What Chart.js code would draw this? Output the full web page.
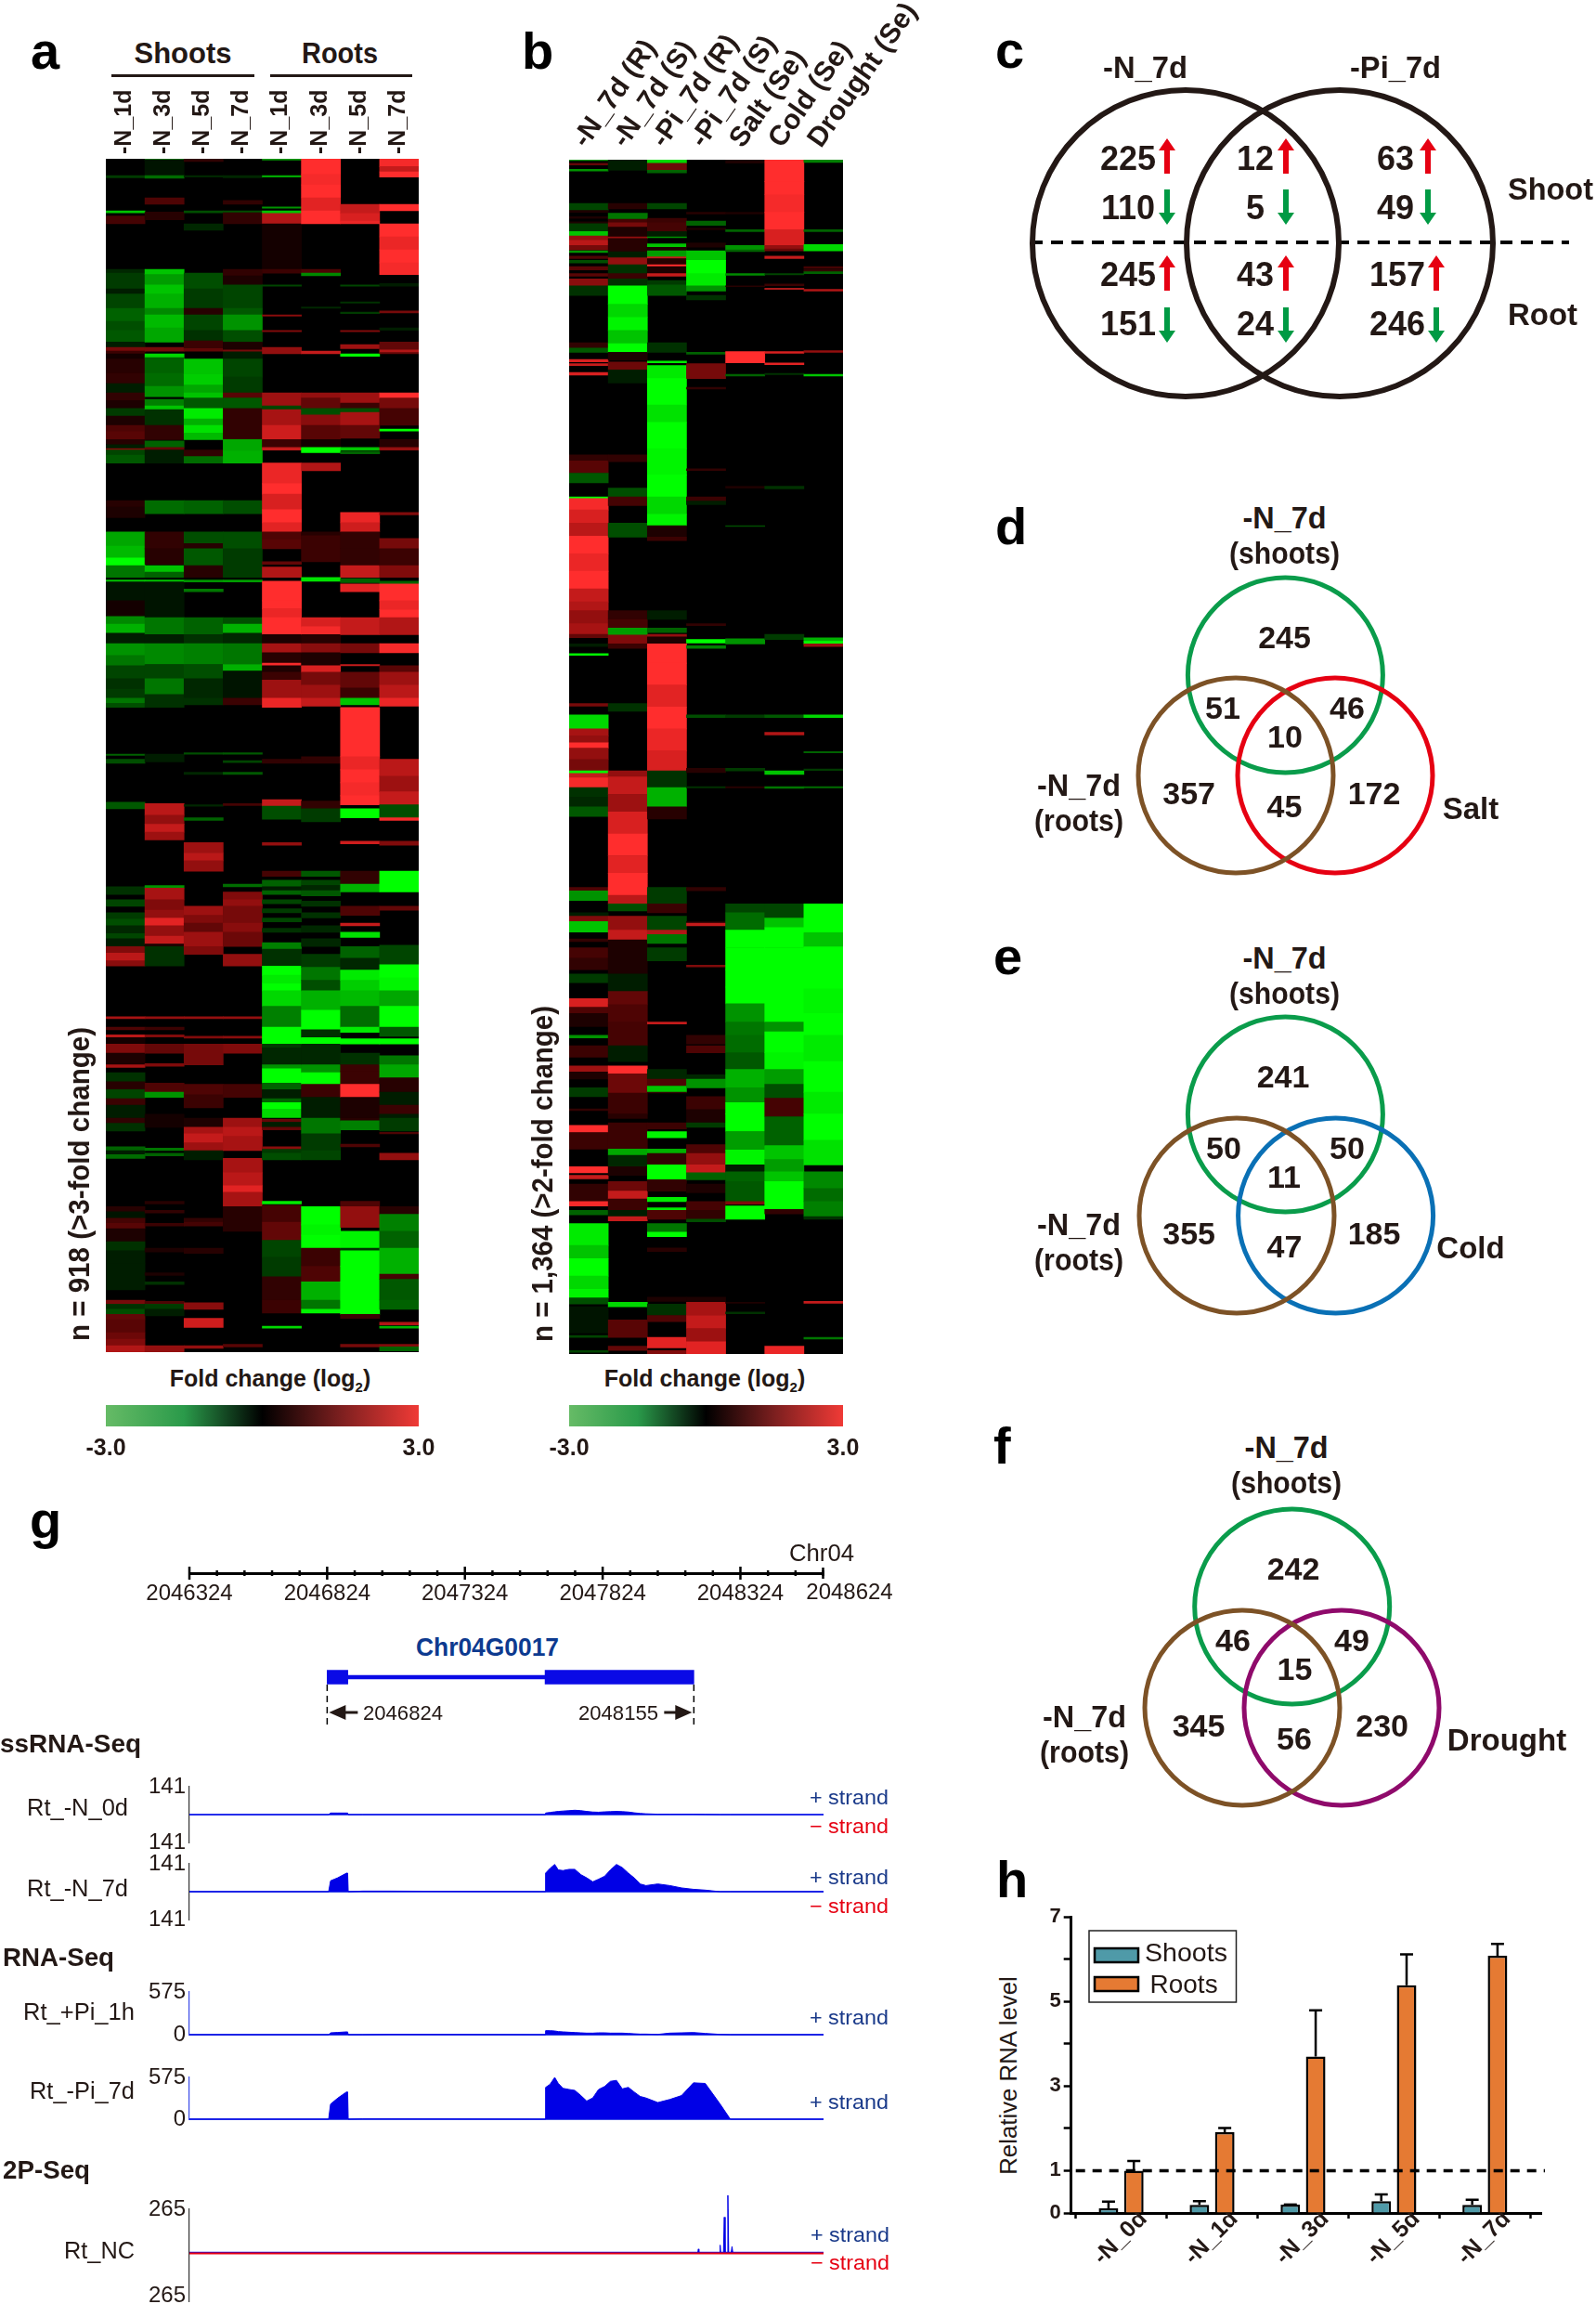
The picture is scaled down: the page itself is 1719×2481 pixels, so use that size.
<!DOCTYPE html>
<html><head><meta charset="utf-8">
<script src="https://cdn.jsdelivr.net/npm/chart.js@4"></script>
<style>
html,body{margin:0;padding:0;background:#fff}
#page{position:relative;width:1719px;height:2481px;overflow:hidden;background:#fff}
canvas{position:absolute}
.t{position:absolute;left:0;top:0;white-space:nowrap;line-height:1;transform-origin:0 0;font-family:"Liberation Sans",Arial,sans-serif;color:#231815}
sub{font-size:.6em;line-height:0}
</style></head><body><div id="page"></div>
<script>
// ---------- panel a: run lists [rowEnd, log2FC, ...] for each column, n = 918
const aLabels=['-N_1d','-N_3d','-N_5d','-N_7d','-N_1d ','-N_3d ','-N_5d ','-N_7d '];
const a1=[13,0,14.5,-.6,40,0,41.5,-2,44,0,50,.7,85,0,88,-.4,100,-.6,104,-.3,115,-.7,125,-1,132,-.8,141,-.9,145,-.3,148,1.2,150,.6,154,.2,165,.4,173,.5,180,-.3,186,.5,192,.3,198,-.6,205,.3,210,.8,216,.9,220,.4,223,-.3,224,1.4,228,-.7,234,-.9,263,0,268,.4,276,.3,287,0,298,-1.7,307,-1.9,313,-2.8,322,-1.2,324,0,325.5,-2,340,-.2,352,.2,358,-1.4,365,-1.8,373,-.3,382,-1.5,390,-1.2,400,-.7,408,-.5,415,-.6,419,-1.2,422,-.8,458,0,459,-1,462,0,465,-.8,495,0,500,-.9,560,0,566,-.5,570,0,575,-.7,580,0,585,-.6,590,-.8,596,-.4,600,-.7,606,-.3,611,1.3,617,1.9,621,1.4,660,0,661.5,1.7,668,0,670,.8,674,0,676,1.9,681,.2,688,1.3,697,.3,699,1.7,703,0,710,-.5,716,.4,723,-.7,728,.6,738,-.3,742,.5,748,-.5,760,0,763,-1,766,-.3,769,-1.1,806,0,810,.4,815,-.2,819,.7,823,.9,833,.3,840,-.5,850,-.3,870,-.3,878,0,881,1.2,885,-.5,889,-.8,893,1,903,.9,908,1.1,913,1.3,918,1.8];
const a2=[1,-1,13,-.2,15,-1.1,30,0,35,.8,41,0,47,.4,85,0,89,-2,97,-1.6,104,-2,115,-1.8,120,-1.4,130,-1.9,141,-1.7,145,0,148,1.2,150,0,153,-2.2,165,-1,175,-1.1,183,-1.5,185,0,190,-1.3,193,-2,205,-.5,216,.5,217,0,222,-1,224,1,234,-.3,263,0,273,-1.1,287,0,300,.5,312,.4,313,0,318,-2,322,-1,324,0,325.5,-2,353,-.2,366,-1.2,373,-.3,389,-1.4,400,-.7,412,-1.2,422,-.5,458,0,464,-.3,496,0,505,1.9,512,1.5,518,2,524,1.6,559,0,561,-1.5,570,1.7,578,1.3,584,1.5,590,2.3,598,1.5,604,2,606,.3,621,-.5,660,0,661.5,1.5,668,0,670,.6,674,0,675.5,1.3,681,0,688,1,696,0,698,1.3,711,0,718,.8,722,-1.5,735,0,745,.2,761,0,763,-1.2,765,0,767,-1,802,0,804,.4,809,0,811,.5,819,0,821,.6,838,0,841,.3,857,0,859,.3,864,0,866,-.5,879,0,881,.8,885,-.6,890,-.3,913,0,918,1.5];
const a3=[2,.5,13,0,14,-.4,40,0,41.5,-.8,50,0,55,-.4,88,0,100,-.8,115,-.6,120,.4,132,-.7,140,-.5,146,.6,148,1,154,0,166,-2,174,-2.1,180,-1.7,184,-2,192,-.9,200,-2.4,205,-1.8,211,-2.3,216,-1.9,224,0,229,.5,234,-1.1,263,0,273,-1,287,0,296,-.8,300,.4,313,-.9,322,.4,324,0,325.5,-1.5,331,0,333,-1.2,353,0,366,-1,373,-.5,389,-1.3,400,-.8,415,-.4,420,-.5,457,0,458,-.8,472,0,473.5,-.4,497,0,498,-.4,507,0,509,-1,526,0,534,1.6,540,1.9,548,1.5,575,0,582,1.6,588,1.3,595,1,606,1.6,612,1.3,660,0,661.5,1.5,675,0,676.5,1.3,681,0,697,1.2,712,0,720,.8,730,.6,738,0,745,.3,750,1.7,757,2,763,1.6,770,-.3,815,0,818,.5,821,.7,838,0,842,.4,880,0,885,1.4,892,0,899,2.1,913,0,915,1.5];
const a4=[13,0,14.5,-.4,32,0,35,.5,40,0,41.5,-.8,50,.5,85,0,90,.5,97,.3,115,-.7,120,-.9,132,-1.5,141,-.8,147,.3,148.5,1.2,154,-.3,168,-.7,180,-.6,184,.9,192,-.9,216,.5,225,-1.7,234,-1.8,263,0,273,-.8,287,0,300,-.8,322,-.6,324,0,325.5,-1.6,353,0,358,-.8,365,-1.8,373,-.4,389,-1.2,394,-1.8,415,-.2,420,.6,457,0,458,-.9,463,0,464.5,-.7,472,0,473.5,-.9,496,0,497.5,.7,558,0,560,-1.1,564,0,570,1.3,575,1.5,588,1.2,595,1.4,606,1.1,612,0,621,1.5,660,0,661.5,1.5,675,0,676.5,1.4,681,0,688,1.3,712,0,722,.7,738,0,745,1.6,752,1.9,763,1.7,769,0,780,1.7,790,1.9,795,2.3,806,1.7,825,.4,912,0,914,.9];
const a5=[1,-1.5,13,0,14,-1.7,37,0,38,-1.5,40,0,42,-2,50,1.8,85,.2,88,.6,97,0,98,-.7,120,0,121,1.4,132,0,133,1.3,145,0,150,1.5,180,0,190,1.6,193,-.7,205,1.7,216,2.1,222,.6,224,2,234,0,250,2.4,258,2.8,270,2.2,280,2.6,287,2.3,293,.8,300,.9,310,0,312,1,314,0,322,1.8,325,0,340,2.6,346,2.8,353,2.4,366,3,373,.3,380,1.7,388,.4,390,2.5,395,.3,401,.6,415,1.6,422,2.4,462,0,465,.5,493,0,498,2,508,-.8,526,0,528,1.5,548,0,552,.7,555,0,560,-1,563,-.3,566,-1,570,0,573,-.7,577,0,580,-.6,584,0,587,-.7,592,0,595,-.5,603,0,608,-1.3,621,-.5,628,-3,634,-2.4,640,-2.9,652,-2.2,668,-1.3,676,-3,681,-3,684,-.6,697,-.4,700,-1.5,711,-2.8,716,-1,723,-.3,726,-1,731,-2.6,738,-2.2,739,.1,741,1,745,-.3,747,1,760,0,762,1.4,765,-.6,770,-.8,802,0,804,-2.4,805,0,818,.7,832,1,845,-.7,860,-.6,878,.5,888,.6,898,0,899.5,-2.2,918,0];
const a6=[12,2.8,20,2.5,30,2.8,40,2.3,50,2.6,85,0,88,.8,90,-1.4,114,0,115,-.4,148,0,150,2,180,0,184,1.5,192,1,197,-.8,205,1.4,216,.9,222,.2,226,-3,234,0,240,1.8,287,0,290,.4,310,.6,322,0,325,-2.3,353,0,360,2.2,366,2.5,373,.4,380,1.4,390,.3,395,2.2,405,1.2,415,1.6,421,2,460,0,465,.5,494,0,500,.5,510,-.6,548,0,552,-.9,555,0,559,-.7,563,-.4,567,-.9,571,0,575,-.5,580,0,584,-.5,590,0,595,-.4,600,0,606,-.4,612,0,622,-.6,632,-1.2,640,-.8,655,-1.8,670,-2.8,676,-.5,681,-3,697,-.4,703,-1.5,712,-2.7,722,.6,738,-.3,750,-1.2,763,-.6,770,-.7,806,0,820,-2.8,828,-2.5,838,-2.9,852,.6,864,.8,878,-1.8,885,-1.2,888,-2.5,918,0];
const a7=[35,0,42,2,48,2.2,50,2.4,97,0,98,-.7,110,0,111,-.5,118,0,119,-.6,132,0,133,1.3,143,0,146,1.6,150,0,152,-2.8,180,0,188,1.6,192,.6,195,-.8,205,1.7,215,1,222,0,224,-2,225,0,227,-1,272,0,280,2.4,287,2.1,300,.5,313,.5,322,2,323,0,326,-1,327,0,333,2.3,353,0,366,2,373,0,380,1.2,389,0,390,2,395,0,407,1,415,.6,420,-2,422,0,460,2.7,470,2.4,480,2.8,490,2.5,497,2.7,500,0,507,-2.7,525,0,527,2.1,548,0,558,.5,564,-1.8,575,0,582,.8,588,0,590,2,595,0,599,-2.3,606,0,615,-1,624,-.4,632,-2.4,640,-2.1,652,-1.9,668,-1.1,672,-2.4,677,0,681,-3,688,0,697,-.5,702,.6,712,.6,722,2.7,738,.3,740,.4,747,-1.3,758,0,760,.8,802,0,806,.8,822,1.5,825,0,838,-2.5,840,-.5,852,-2.9,864,-3,878,-2.8,889,-3,892,.6,912,0,914,1.2,918,0];
const a8=[6,2.5,10,2,14,2.6,35,0,40,2.7,50,0,60,2.7,70,2.4,80,2.8,89,2.5,96,0,98,-.3,117,0,118.5,1.2,130,0,132,-.3,141,0,147,1,149,1.8,150,1,180,0,184,2.6,192,1.2,205,.7,208,0,209.5,-2.6,216,0,222,.4,224,1.5,272,0,274,1.3,292,0,300,1.2,313,.6,322,1.3,325,0,327,-1,340,2.7,347,2.4,353,2.8,366,1.8,373,0,380,2.5,390,0,395,.9,405,1.6,415,1.9,421,2.4,462,0,475,1.9,487,1.6,497,2,507,-.8,509,2.5,525,0,528,1.3,548,0,564,-3,575,0,578,1,605,0,620,-.7,630,-2.8,640,-2.5,652,-1.7,668,-3,675,-.9,677,0,681,-3,690,0,697,-1.2,707,-1.7,718,.4,728,-.3,735,.6,738,-.3,748,-.6,749,0,750,.8,765,0,770,1.5,806,0,812,.4,825,-1.3,838,-1,858,-1.8,862,.7,878,-.9,885,-1,895,0,897,1.8,898,0,899.5,-1.8,912,0,914,1.3,917,-1,918,0];
// ---------- panel b: run lists, n = 1,364
const bLabels=['-N_7d (R)','-N_7d (S)','-Pi_7d (R)','-Pi_7d (S)','Salt (Se)','Cold (Se)','Drought (Se)'];
const b1=[1,-1.5,4,0,6,1,11,0,13,-1.5,50,0,58,-.7,60,.3,65,0,67,.3,71,0,73,.3,82,-.6,87,-2,92,1.5,98,1.9,103,1.2,104,0,106,-1.5,110,0,113,.8,115,0,118,-.8,122,0,126,.9,130,0,133,.9,136,0,144,1.4,155,-.5,209,0,215,.5,220,-.9,228,0,231,2.2,233,0,235,2,243,0,246,2.2,337,0,344,.5,358,.9,369,-.9,385,0,387,-2.8,400,2.5,415,2.2,430,1.9,450,2.6,470,2.4,490,2.8,505,2,515,1.8,530,1.5,542,1.7,546,1,553,0,556,-.3,564,0,566,-2.5,621,0,624,1.2,634,0,650,-2.2,658,1.7,666,1.5,672,2.7,685,1.5,698,1.2,701,-3,706,2,717,2.5,728,-.5,739,-.4,750,-.9,831,0,835,.8,846,-1.5,860,0,864,-.3,870,1.3,882,-2,890,0,893,.5,900,0,912,.7,925,.5,930,0,940,-.6,958,0,968,2.2,975,.8,990,.3,1000,0,1003,-1.5,1012,0,1025,.6,1035,0,1042,1.6,1050,.3,1060,0,1070,-.6,1084,0,1086,.5,1103,0,1111,2.7,1130,.6,1150,0,1157,2.9,1160,0,1164,2,1170,0,1190,.5,1195,2.5,1200,0,1205,-1,1215,0,1240,-2.4,1255,-2,1275,-2.6,1290,-2.2,1300,-2.5,1307,-.8,1310,0,1340,-.2,1343,0,1345,-.7,1360,0,1362,-.7,1364,0];
const b2=[12,-.3,50,0,56,.4,61,0,68,-1.2,72,.7,77,1.2,88,.3,90,1.5,105,.4,112,-.3,120,1.5,130,-.5,136,.6,144,-.5,165,-2.9,180,-2.2,195,-2.5,210,-2,220,-2.6,229,.3,231,0,240,1.1,255,-.3,337,0,345,.5,375,0,385,-.8,395,.7,415,0,431,-.8,515,0,525,.5,535,.7,543,-1.6,553,1.3,558,.6,621,0,630,-.5,698,0,705,1.5,725,2,745,1.6,770,2.2,795,2.6,815,2.3,840,2.7,850,1.9,858,-.8,864,0,880,1.5,891,2,930,.3,950,-.3,965,1,985,.8,1012,.7,1030,-.3,1035,0,1044,2.8,1066,1.1,1090,.6,1095,.4,1100,0,1130,.6,1137,-1.7,1150,-.4,1160,.3,1167,0,1178,1.1,1187,2,1200,.6,1207,-.3,1212,2,1305,0,1310,-2.2,1325,0,1345,.9,1355,0,1360,1,1364,0];
const b3=[4,-2.2,12,1.1,15,-1,50,0,56,-.7,67,0,72,.6,82,.7,88,-.3,89,-1.5,96,0,100,-2,104,.3,111,-1.6,113,2,120,.4,122,2.9,130,.3,133,2,138,0,143,-.6,155,-.9,209,0,220,-.5,230,0,232,-2.4,235,0,250,-2.4,280,-2.7,300,-2.3,330,-2.8,360,-2.5,385,-3,405,-2.2,418,-2.5,431,.3,435,.6,515,0,525,-.3,535,0,540,-1,542,0,545,1.5,553,.3,575,2.6,600,2.9,625,2.3,650,2.8,675,2.4,698,2.2,717,-.5,739,-1.8,753,.4,831,0,850,-.6,860,.6,864,0,880,-.7,885,1.8,895,-1.2,900,0,915,-.6,985,0,987,2,1039,0,1050,-.4,1058,.8,1065,-2,1066,.5,1100,0,1107,.6,1110,0,1117,-2.5,1130,0,1135,-1.8,1148,.5,1165,-3,1178,.5,1185,0,1190,-2.4,1197,0,1200,-2.4,1210,.8,1215,0,1225,-1.2,1230,-2.8,1243,0,1247,.4,1299,0,1304,.3,1307,0,1320,-.5,1327,.8,1345,0,1357,2.3,1360,0,1364,1.3];
const b4=[60,0,62,.4,70,0,75,-1,78,0,80,.3,95,0,100,.3,104,0,115,-2,130,-2.7,144,-2.4,150,-1.5,155,0,160,-.5,220,0,222,-1,233,0,250,1.2,260,0,262,.5,353,0,355,.5,385,0,390,.6,394,-.3,530,0,532,.5,548,0,552,-3,555,0,558,-1.3,634,0,637,-.8,695,0,700,.4,716,0,717.5,-.5,831,0,835,.5,870,0,872,.3,875,2,920,0,922,1.3,1000,0,1010,.5,1012,0,1020,.8,1045,0,1050,-.4,1060,-1.5,1070,0,1085,.6,1100,.3,1105,-.6,1125,0,1135,.8,1148,1.5,1157,2,1165,-1,1170,0,1180,.3,1190,0,1200,.7,1210,.5,1213,-.8,1299,0,1305,.3,1320,1.7,1335,2,1350,1.6,1364,2.3];
const b5=[4,.3,60,0,62,.3,80,0,82,-1,98,0,103,-1.5,105,-1,130,0,132,-1.4,144,0,145,.4,219,0,232,2.7,245,0,247,-1,373,0,375,.3,418,0,419,-.8,547,0,553,-1.5,634,0,637,-.6,695,0,698,-.6,716,0,717.5,.4,850,0,860,-.7,880,-1.1,900,-2.8,925,-3,945,-2.7,964,-2.9,985,-1.5,1000,-1.2,1020,-1.1,1039,-.9,1060,-1.8,1077,-1.5,1090,-2.9,1110,-2.6,1131,-1.6,1148,-2.5,1156,-.3,1167,-1,1190,-.9,1193,1.3,1195,0,1210,-3,1305,0,1306,.3,1316,0,1318,-.5,1364,0];
const b6=[25,2.7,40,2.9,60,2.5,80,2.7,98,2.2,102,1.5,104,1.1,110,0,113,2,130,0,131.5,-.7,142,0,144,.6,147,0,148,2.3,219,0,221,2.2,232,0,234,2.3,244,0,245.5,-.5,373,0,376,-.5,542,0,548,-.6,634,0,637,-.9,654,0,657,1.8,698,0,702,-2,716,0,718,-1.2,850,0,866,-.7,877,-2,900,-2.9,920,-2.6,958,-2.9,985,-3,996,-1.5,1020,-2.9,1039,-2.5,1056,-1.6,1072,-.8,1093,.7,1126,-1,1142,-2,1156,-1.6,1167,-2,1199,-3,1204,.5,1355,0,1364,2.4];
const b7=[3,-1.3,80,0,82,-1,97,0,104,-2.2,122,0,124,.7,125,0,128,.5,130,-1,148,0,150,1.8,218,0,220,1.5,245,0,247,-2,546,0,550,-1.8,553,-3,556,1.5,634,0,637,-2.2,676,0,677.5,-1,696,0,697.5,-.6,716,0,717.5,-1.1,850,0,883,-3,899,-2,947,-3,975,-2.5,1000,-2.9,1030,-2.4,1065,-2.8,1090,-2.4,1120,-2.7,1148,-2.3,1156,0,1175,-1.4,1190,-1.1,1207,-1.3,1210,-.5,1304,0,1306,2,1345,0,1347,-1.2,1364,0];
// ---------- panel g: ruler and read-coverage tracks
const rulerStart=2046324, rulerEnd=2048624, rulerStep=100, rulerLabelStep=500;
const exon1=[2046824,2046899], intron=[2046899,2047615], exon2=[2047615,2048155];
const trackBp=[2046324,2046829,2046836,2046862,2046894,2046898,2046900,2046952,2047055,2047614,2047616,2047632,2047649,2047662,2047679,2047701,2047722,2047744,2047765,2047787,2047808,2047830,2047851,2047873,2047894,2047916,2047937,2047959,2047980,2048023,2048066,2048109,2048152,2048195,2048249,2048286,2048624];
const rtN0=[0,0,8,8,8,8,0,0,0,0,8,11,14,16,18,20,22,20,16,13,12,14,15,16,15,13,9,6,4,2,2,2,2,1,0,0,0];
const rtN7=[0,0,55,70,94,94,0,3,3,0,94,118,138,110,107,113,113,86,70,50,63,78,110,138,122,94,70,39,31,39,31,19,12,8,0,0,0];
const rtPi1=[0,0,25,30,38,38,0,0,4,0,54,54,50,42,38,33,29,25,21,21,25,25,21,21,21,17,12,8,8,4,21,25,29,17,4,0,0];
const rtPi7=[0,0,208,290,375,375,0,4,4,0,438,480,575,492,425,409,396,325,250,292,409,450,521,534,417,438,375,313,292,229,271,325,500,492,208,0,0];
const ncBp=[2046324,2048168,2048170,2048172,2048247,2048249,2048251,2048261,2048264,2048267,2048274,2048277,2048280,2048289,2048292,2048295,2048624];
const rtNC=[0,0,23,0,0,47,0,0,217,0,0,350,0,0,38,0,0];
// ---------- panel h
const hLabels=['-N_0d','-N_1d','-N_3d','-N_5d','-N_7d'];
const shoots=[.11,.19,.2,.28,.19], shootsErr=[.27,.28,.2,.44,.31];
const roots=[1,1.91,3.7,5.38,6.08], rootsErr=[1.23,2.01,4.79,6.11,6.36];
const hTicks=[0,1,2,3,4,5,6,7], hLabelled=[0,1,3,5,7];
// ---------- venn counts
const vennC=['225','110','12','5','63','49','245','151','43','24','157','246'];
const vennD=['245','51','46','10','357','45','172'];
const vennE=['241','50','50','11','355','47','185'];
const vennF=['242','46','49','15','345','56','230'];

const page=document.getElementById('page');
const INK='#231815', FONT='"Liberation Sans",Arial,sans-serif';
Chart.defaults.font.family=FONT; Chart.defaults.color=INK; Chart.defaults.animation=false;
Chart.defaults.responsive=false; Chart.defaults.events=[];
Chart.defaults.plugins.legend.display=false; Chart.defaults.plugins.tooltip.enabled=false;
const mc=document.createElement('canvas').getContext('2d');
function mk(x,y,w,h){const c=document.createElement('canvas');c.width=w;c.height=h;c.style.left=x+'px';c.style.top=y+'px';page.appendChild(c);return c}
function T(html,x,y,o={}){
  const d=document.createElement('div');d.className='t';d.innerHTML=html;
  const size=o.size||24,w=o.weight||'normal';d.style.fontSize=size+'px';d.style.fontWeight=w;if(o.color)d.style.color=o.color;
  mc.font=w+' '+size+'px '+FONT;
  const natural=mc.measureText(d.textContent).width;const sx=o.len?o.len/natural:1;
  const ax=o.anchor==='left'?'0':o.anchor==='right'?'-100%':'-50%';
  const yy=o.base?y-.8465*size:y-.5*size;
  d.style.transform=`translate(${x}px,${o.rot?y:yy}px) rotate(${o.rot||0}deg) scaleX(${sx}) translate(${ax},${o.rot?'-50%':'0'})`;
  page.appendChild(d);return d}
function heatColor(v){const t=Math.min(1,Math.abs(v)/2.6);
  return v>0?`rgb(${Math.round(255*t)},${Math.round(45*t*t)},${Math.round(45*t*t)})`:`rgb(0,${Math.round(255*t)},0)`}
function segments(labels,cols){const pts=[],col=[];
  cols.forEach((arr,i)=>{let s=0;for(let k=0;k<arr.length;k+=2){const e=arr[k],v=arr[k+1];
    if(v!==0){pts.push({x:labels[i],y:[s,e]});col.push(heatColor(v))}s=e}});return{pts,col}}
const blackBg={id:'blackBg',beforeDatasetsDraw(c){const a=c.chartArea,x=c.ctx;x.save();x.fillStyle='#000';x.fillRect(a.left,a.top,a.right-a.left,a.bottom-a.top);x.restore()}};
function heat(cfg){
  const {pts,col}=segments(cfg.labels,cfg.cols);
  const c=mk(cfg.x-cfg.padL,cfg.y-cfg.head,cfg.w+cfg.padL+cfg.padR,cfg.h+cfg.head);
  new Chart(c,{type:'bar',data:{labels:cfg.labels,datasets:[{data:pts,backgroundColor:col,borderWidth:0,barPercentage:1,categoryPercentage:1,grouped:false}]},
   plugins:[blackBg],
   options:{layout:{padding:{left:cfg.padL,right:cfg.padR,top:0,bottom:0}},
    scales:{x:{position:'top',afterFit:s=>{s.height=cfg.head},grid:{display:false,drawTicks:false},border:{display:false},
        ticks:{autoSkip:false,minRotation:cfg.rot,maxRotation:cfg.rot,padding:cfg.pad,labelOffset:cfg.off,font:{size:cfg.size,weight:'bold'},color:INK}},
      y:{display:false,reverse:true,min:0,max:cfg.n}}}})
}
heat({labels:aLabels,cols:[a1,a2,a3,a4,a5,a6,a7,a8],x:114,y:171,w:337,h:1285,n:918,head:85,rot:90,size:25,pad:5,padL:40,padR:40,off:29});
heat({labels:bLabels,cols:[b1,b2,b3,b4,b5,b6,b7],x:613,y:172,w:295,h:1286,n:1364,head:172,rot:55,size:30,pad:6,padL:40,padR:170,off:20});
function colorBar(x,w){
  const c=mk(x-60,1513,w+120,60);
  new Chart(c,{type:'bar',data:{labels:['scale'],datasets:[{data:[[-3,3]],barPercentage:1,categoryPercentage:1,
     backgroundColor(ctx){const a=ctx.chart.chartArea;if(!a)return '#000';const g=ctx.chart.ctx.createLinearGradient(a.left,0,a.right,0);
       g.addColorStop(0,'#66bb66');g.addColorStop(.25,'#2a9a4a');g.addColorStop(.5,'#000');g.addColorStop(.75,'#7c1f1f');g.addColorStop(1,'#f03a36');return g}}]},
   options:{indexAxis:'y',layout:{padding:{left:60,right:60}},
    scales:{y:{display:false},x:{min:-3,max:3,afterFit:s=>{s.height=37},afterBuildTicks:s=>{s.ticks=[{value:-3},{value:3}]},
      grid:{display:false,drawTicks:false},border:{display:false},
      ticks:{autoSkip:false,maxRotation:0,padding:9,font:{size:25,weight:'bold'},color:INK,callback:v=>Number(v).toFixed(1)}}}}})
}
colorBar(114,337);colorBar(613,295);

// panel a / b labels
T('Shoots',197,57,{size:31,weight:'bold',len:105});T('Roots',366,57,{size:31,weight:'bold',len:82});
[[120,154],[291,153]].forEach(([x,w])=>{const d=document.createElement('div');d.style.cssText=`position:absolute;left:${x}px;top:80px;width:${w}px;height:3px;background:${INK}`;page.appendChild(d)});
T('n = 918 (&gt;3-fold change)',85,1275,{size:32,weight:'bold',rot:-90,len:338});
T('n = 1,364 (&gt;2-fold change)',584,1264,{size:32,weight:'bold',rot:-90,len:362});
T('Fold change (log<sub>2</sub>)',291,1484,{size:25,weight:'bold',len:222});
T('Fold change (log<sub>2</sub>)',759,1484,{size:25,weight:'bold',len:222});
[['a',33,74],['b',562,74],['c',1072,73],['d',1072,586],['e',1070,1049],['f',1070,1576],['g',32,1656],['h',1073,2043]].forEach(([s,x,y])=>T(s,x,y,{size:56,weight:'bold',anchor:'left',base:true,color:'#000'}));

// ---------- venns: scale units equal page px inside each panel canvas
function arrowImg(up,color){const c=document.createElement('canvas');c.width=20;c.height=38;const x=c.getContext('2d');x.fillStyle=color;
  if(!up){x.translate(0,38);x.scale(1,-1)}x.beginPath();x.moveTo(10,0);x.lineTo(19,13);x.lineTo(13,13);x.lineTo(13,38);x.lineTo(7,38);x.lineTo(7,13);x.lineTo(1,13);x.closePath();x.fill();return c}
function venn(x0,y0,w,h,circles,extra=[]){
  const c=mk(x0,y0,w,h);
  const ds=circles.map(k=>({data:[{x:k[0]-x0,y:k[1]-y0}],pointRadius:k[2],pointBorderWidth:k[4]||5,pointBorderColor:k[3],pointBackgroundColor:'rgba(0,0,0,0)',clip:false}));
  new Chart(c,{type:'scatter',data:{datasets:ds.concat(extra.map(e=>e(x0,y0)))},
    options:{layout:{autoPadding:false,padding:0},scales:{x:{display:false,min:0,max:w},y:{display:false,min:0,max:h,reverse:true}}}})
}
const GREEN='#0a9c4b',BROWN='#7d5226',RED='#e60012',BLUE='#0a70b5',PURPLE='#8f0a6b',UP='#e60012',DOWN='#009a44';
const upX=[1257,1385,1538,1257,1385,1547],upY=[168,168,168,294,294,294];
const downX=[1257,1385,1538,1257,1385,1547],downY=[223,223,223,350,350,350];
venn(1060,60,659,400,[[1277,262,165,INK,6],[1443,262,165,INK,6]],[
  (x0,y0)=>({showLine:true,data:[{x:1110-x0,y:261-y0},{x:1690-x0,y:261-y0}],borderColor:'#000',borderWidth:4,borderDash:[13,9],pointRadius:0}),
  (x0,y0)=>({data:upX.map((x,i)=>({x:x-x0,y:upY[i]-y0})),pointStyle:arrowImg(true,UP)}),
  (x0,y0)=>({data:downX.map((x,i)=>({x:x-x0,y:downY[i]-y0})),pointStyle:arrowImg(false,DOWN)})]);
const cPos=[[1215,171],[1215,224],[1352,171],[1352,224],[1503,171],[1503,224],[1215,296],[1215,349],[1352,296],[1352,349],[1505,296],[1505,349]];
vennC.forEach((s,i)=>T(s,cPos[i][0],cPos[i][1],{size:36,weight:'bold'}));
T('-N_7d',1233.5,72,{size:33,weight:'bold',len:91});T('-Pi_7d',1503,72,{size:33,weight:'bold',len:98});
T('Shoot',1624,203,{size:33,weight:'bold',anchor:'left',len:92});T('Root',1624,338,{size:33,weight:'bold',anchor:'left',len:75});
venn(1060,600,659,360,[[1331,835,105,BROWN],[1438,835,105,RED],[1384.4,727,105,GREEN]]);
venn(1060,1080,659,350,[[1332,1309,105,BROWN],[1438.6,1309,105,BLUE],[1384.4,1200,105,GREEN]]);
venn(1060,1610,659,350,[[1338,1839,105,BROWN],[1445,1839,105,PURPLE],[1391.7,1730,105,GREEN]]);
function vLabels(vals,pos,top,left,third){
  vals.forEach((s,i)=>T(s,pos[i][0],pos[i][1],{size:34,weight:'bold'}));
  T('-N_7d',top[0],top[1],{size:33,weight:'bold',len:90});T('(shoots)',top[0],top[1]+38.5,{size:33,weight:'bold',len:119});
  T('-N_7d',left[0],left[1],{size:33,weight:'bold',len:90});T('(roots)',left[0],left[1]+38.5,{size:33,weight:'bold',len:96});
  T(third[0],third[1],third[2],{size:33,weight:'bold'});
}
vLabels(vennD,[[1383.5,686],[1317,762],[1451,762],[1384,793],[1280.6,854],[1383.5,868],[1480,854]],[1383.5,557],[1162,845],['Salt',1584,870]);
vLabels(vennE,[[1382,1159],[1318,1236],[1451,1236],[1383,1267],[1280.6,1328],[1383.5,1342],[1480,1328]],[1383.5,1031],[1162,1318],['Cold',1584,1343]);
vLabels(vennF,[[1393,1689],[1328,1766],[1456,1766],[1394.5,1797],[1291,1858],[1394,1872],[1488.6,1858]],[1385.6,1558],[1168,1848],['Drought',1623,1873]);

// ---------- panel g
const bpTicks=[];for(let v=rulerStart;v<=rulerEnd;v+=rulerStep)bpTicks.push(v);
const rulerMarks={id:'rulerMarks',afterDraw(c){const s=c.scales.x,x=c.ctx,y=c.chartArea.bottom;x.save();x.strokeStyle='#000';x.lineWidth=2.5;
  bpTicks.forEach(v=>{const p=s.getPixelForValue(v),big=(v-rulerStart)%rulerLabelStep===0,r=big?7:3;x.beginPath();x.moveTo(p,y-r);x.lineTo(p,y+r);x.stroke()});
  const p=s.getPixelForValue(rulerEnd);x.beginPath();x.moveTo(p,y-6);x.lineTo(p,y+6);x.stroke();x.restore()}};
new Chart(mk(130,1670,870,70),{type:'scatter',data:{datasets:[{data:[]}]},plugins:[rulerMarks],
  options:{layout:{padding:{left:74,right:113.5,top:10}},scales:{y:{display:false},
   x:{type:'linear',min:rulerStart,max:rulerEnd,afterBuildTicks:s=>{s.ticks=bpTicks.map(v=>({value:v}))},afterFit:s=>{s.height=46},
     grid:{display:false,drawTicks:false},border:{display:true,color:'#000',width:3},
     ticks:{autoSkip:false,maxRotation:0,padding:8,font:{size:24},color:INK,callback:v=>((v-rulerStart)%rulerLabelStep===0&&v<rulerEnd-100)?String(v):''}}}}});
T('2048624',915,1714,{size:24});T('Chr04',885,1672,{size:25,len:70});
T('Chr04G0017',525,1774,{size:27,weight:'bold',color:'#0d3a8f',len:154});
const geneMarks={id:'geneMarks',afterDraw(c){const s=c.scales.x,x=c.ctx,top=c.chartArea.top;x.save();x.strokeStyle='#000';x.fillStyle=INK;x.lineWidth=1.5;
  const L=s.getPixelForValue(exon1[0]),R=s.getPixelForValue(exon2[1]);
  x.setLineDash([7,5]);[L,R].forEach(p=>{x.beginPath();x.moveTo(p,top+16);x.lineTo(p,top+62);x.stroke()});x.setLineDash([]);
  const ay=top+46;x.lineWidth=3;x.strokeStyle=INK;
  x.beginPath();x.moveTo(L+16,ay);x.lineTo(L+33,ay);x.stroke();x.beginPath();x.moveTo(R-16,ay);x.lineTo(R-32,ay);x.stroke();
  x.beginPath();x.moveTo(L+2,ay);x.lineTo(L+20,ay-8);x.lineTo(L+20,ay+8);x.closePath();x.fill();
  x.beginPath();x.moveTo(R-2,ay);x.lineTo(R-20,ay-8);x.lineTo(R-20,ay+8);x.closePath();x.fill();x.restore()}};
const geneBlue='#0a0ae6';
new Chart(mk(130,1790,870,80),{type:'bar',data:{labels:['Chr04G0017'],datasets:[
   {data:[exon1],barThickness:15,backgroundColor:geneBlue,grouped:false},
   {data:[intron],barThickness:4,backgroundColor:geneBlue,grouped:false},
   {data:[exon2],barThickness:15,backgroundColor:geneBlue,grouped:false}]},plugins:[geneMarks],
  options:{indexAxis:'y',layout:{padding:{left:74,right:113.5,top:8,bottom:56}},scales:{y:{display:false},x:{display:false,type:'linear',min:rulerStart,max:rulerEnd}}}});
T('2046824',391,1845,{size:22,anchor:'left',len:86});T('2048155',623,1845,{size:22,anchor:'left',len:86});

function track(top,bot,ymax,ymin,ticks,bp,vals,axisColor,baseColor,padTop,redLine){
  const PB=22;
  const c=mk(130,top-padTop,757,bot-top+padTop+PB);
  const ds=[{data:bp.map((x,i)=>({x,y:vals[i]})),showLine:true,fill:'origin',backgroundColor:'#0000e6',borderColor:'#0000e6',borderWidth:1,pointRadius:0,tension:0,clip:false},
    {data:[{x:rulerStart,y:0},{x:rulerEnd,y:0}],showLine:true,borderColor:baseColor,borderWidth:2,pointRadius:0,clip:false}];
  if(redLine)ds.unshift({data:[{x:rulerStart,y:-4},{x:rulerEnd,y:-4}],showLine:true,borderColor:'#e60012',borderWidth:2,pointRadius:0,clip:false});
  new Chart(c,{type:'scatter',data:{datasets:ds},options:{layout:{padding:{top:padTop,bottom:PB,left:0,right:0}},
    scales:{x:{display:false,type:'linear',min:rulerStart,max:rulerEnd},
     y:{min:ymin,max:ymax,afterFit:s=>{s.width=74},afterBuildTicks:s=>{s.ticks=ticks.map(v=>({value:v}))},
       grid:{display:false,drawTicks:false},border:{display:true,color:axisColor,width:1.2},
       ticks:{padding:4,autoSkip:false,font:{size:24},color:INK,callback:v=>String(Math.abs(v))}}}}});
}
track(1923.7,1983.7,141,-141,[141,-141],trackBp,rtN0,'#333','#4a5cf0',22);
track(2007,2067,141,-141,[141,-141],trackBp,rtN7,'#333','#3a4ae8',22);
track(2145,2191,575,0,[575,0],trackBp,rtPi1,'#3a4ae8','#3a4ae8',22);
track(2237,2282,575,0,[575,0],trackBp,rtPi7,'#3a4ae8','#3a4ae8',22);
track(2379,2478,265,-295,[265,-265],ncBp,rtNC,'#333','#1a1ae6',22,true);
T('Rt_-N_0d',138,1946,{size:25,anchor:'right',len:109});T('Rt_-N_7d',138,2033,{size:25,anchor:'right',len:109});
T('Rt_+Pi_1h',145,2166,{size:25,anchor:'right',len:120});T('Rt_-Pi_7d',145,2251,{size:25,anchor:'right',len:113});T('Rt_NC',145,2423,{size:25,anchor:'right',len:76});
T('ssRNA-Seq',0,1878,{size:28,weight:'bold',anchor:'left',len:152});T('RNA-Seq',3,2108,{size:28,weight:'bold',anchor:'left',len:120});T('2P-Seq',3,2337,{size:28,weight:'bold',anchor:'left',len:94});
const NAVY='#1a3a8a',MINUS='#e60012';
[[1936,872],[2022,872],[2172.7,872],[2264,872],[2406.7,873]].forEach(([y,x])=>T('+ strand',x,y,{size:22,anchor:'left',color:NAVY,len:85}));
[[1967,872],[2053,872],[2437,873]].forEach(([y,x])=>T('− strand',x,y,{size:22,anchor:'left',color:MINUS,len:85}));

// ---------- panel h
const hExtras={id:'hExtras',afterDatasetsDraw(c){const x=c.ctx,ys=c.scales.y,a=c.chartArea;x.save();x.strokeStyle='#000';
  [[0,shootsErr],[1,rootsErr]].forEach(([d,err])=>{c.getDatasetMeta(d).data.forEach((b,i)=>{
    const t=ys.getPixelForValue(err[i]);x.lineWidth=2.5;x.beginPath();x.moveTo(b.x,b.y);x.lineTo(b.x,t);x.moveTo(b.x-7,t);x.lineTo(b.x+7,t);x.stroke()})});
  const p=ys.getPixelForValue(1);x.lineWidth=3.5;x.setLineDash([10,8]);x.beginPath();x.moveTo(a.left+5,p);x.lineTo(a.right+4,p);x.stroke();x.setLineDash([]);
  const ox=1110,oy=2040;x.lineWidth=1.5;x.strokeStyle='#222';x.strokeRect(1173-ox,2079-oy,158.5,77);
  x.lineWidth=2.5;x.strokeStyle='#000';x.fillStyle='#4f9aa8';x.fillRect(1179-ox,2098-oy,47,15);x.strokeRect(1179-ox,2098-oy,47,15);
  x.fillStyle='#e57a33';x.fillRect(1179-ox,2129-oy,47,15);x.strokeRect(1179-ox,2129-oy,47,15);x.restore()}};
new Chart(mk(1110,2040,600,441),{type:'bar',data:{datasets:[
   {label:'Shoots',data:shoots.map((y,x)=>({x,y})),backgroundColor:'#4f9aa8',borderColor:'#000',borderWidth:2.5,barPercentage:.77,categoryPercentage:.557},
   {label:'Roots',data:roots.map((y,x)=>({x,y})),backgroundColor:'#e57a33',borderColor:'#000',borderWidth:2.5,barPercentage:.77,categoryPercentage:.557}]},
  plugins:[hExtras],
  options:{layout:{padding:{top:24,right:50,left:0,bottom:0}},scales:{
   x:{type:'linear',offset:false,min:-.55,max:4.62,afterBuildTicks:s=>{s.ticks=hLabels.map((_,i)=>({value:i}))},afterFit:s=>{s.height=98},
      grid:{drawOnChartArea:false,drawTicks:true,tickLength:6,tickColor:'#000',tickWidth:2.5},border:{color:'#000',width:3},
      ticks:{autoSkip:false,minRotation:45,maxRotation:45,padding:-14,labelOffset:24,font:{size:25,weight:'bold'},color:INK,callback:v=>hLabels[v]}},
   y:{min:0,max:7,afterBuildTicks:s=>{s.ticks=hTicks.map(v=>({value:v}))},afterFit:s=>{s.width=43.7},
      grid:{drawOnChartArea:false,drawTicks:true,tickLength:8,tickColor:'#000',tickWidth:2.5},border:{color:'#000',width:3},
      ticks:{autoSkip:false,padding:3,font:{size:22,weight:'bold'},color:INK,callback:v=>hLabelled.includes(v)?String(v):''}}}}});
T('Shoots',1233,2103,{size:28,anchor:'left',len:89});T('Roots',1238.6,2137,{size:28,anchor:'left',len:73});
T('Relative RNA level',1086,2235,{size:26,rot:-90,len:215});
</script></body></html>
